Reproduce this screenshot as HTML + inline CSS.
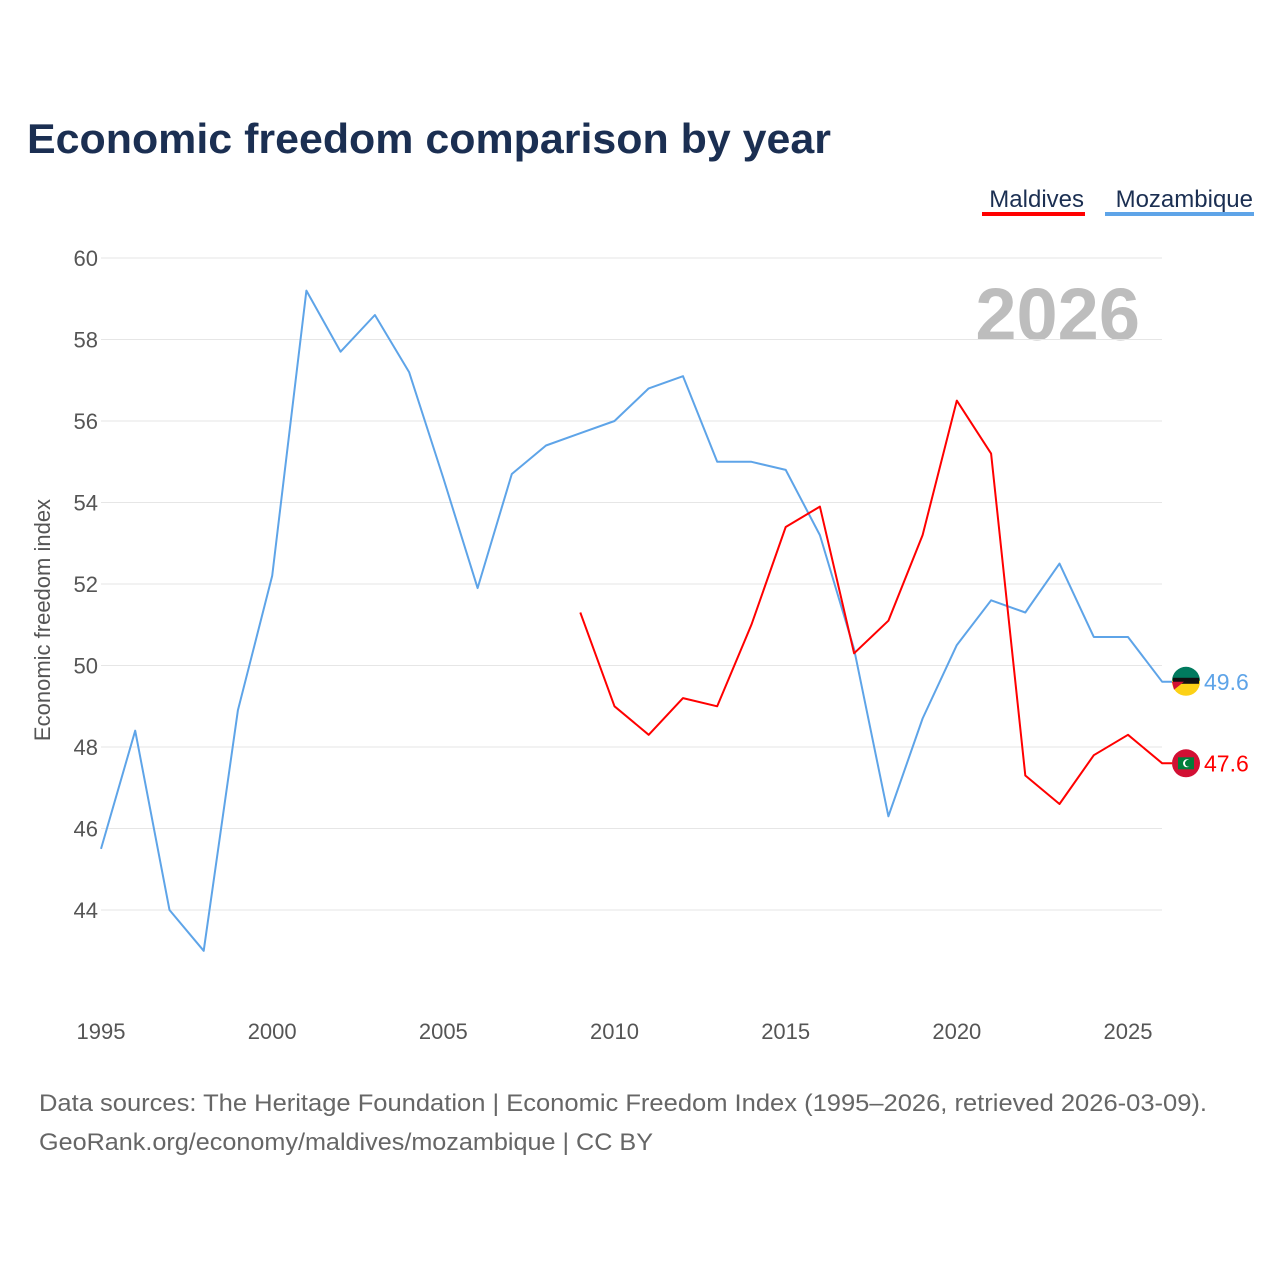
<!DOCTYPE html>
<html><head><meta charset="utf-8"><style>
html,body{margin:0;padding:0;background:#fff;}
body{width:1280px;height:1280px;overflow:hidden;font-family:"Liberation Sans",sans-serif;}
</style></head><body>
<svg id="chart" width="1280" height="1280" xmlns="http://www.w3.org/2000/svg" font-family="Liberation Sans, sans-serif">
<text x="27" y="153" font-size="42" font-weight="bold" fill="#1b2f52" textLength="804" lengthAdjust="spacingAndGlyphs">Economic freedom comparison by year</text>
<g>
<text x="1084" y="207" font-size="24" fill="#1b2f52" text-anchor="end">Maldives</text>
<rect x="982" y="212" width="103" height="4" fill="#ff0000"/>
<text x="1253" y="207" font-size="24" fill="#1b2f52" text-anchor="end">Mozambique</text>
<rect x="1105" y="212" width="149" height="4" fill="#5ea4e8"/>
</g>
<text x="1140" y="340" font-size="74" font-weight="bold" fill="#bdbdbd" text-anchor="end">2026</text>
<text transform="translate(50,620) rotate(-90)" font-size="22" fill="#555" text-anchor="middle">Economic freedom index</text>
<g id="grid"></g><g id="yticks"></g><g id="xticks"></g><g id="lines"></g><g id="ends"></g>
<text x="39" y="1111" font-size="24" fill="#666" textLength="1168" lengthAdjust="spacingAndGlyphs">Data sources: The Heritage Foundation | Economic Freedom Index (1995–2026, retrieved 2026-03-09).</text>
<text x="39" y="1150" font-size="24" fill="#666" textLength="614" lengthAdjust="spacingAndGlyphs">GeoRank.org/economy/maldives/mozambique | CC BY</text>
</svg>
<script>
const years=[1995,1996,1997,1998,1999,2000,2001,2002,2003,2004,2005,2006,2007,2008,2009,2010,2011,2012,2013,2014,2015,2016,2017,2018,2019,2020,2021,2022,2023,2024,2025,2026];
const mozambique=[45.5,48.4,44.0,43.0,48.9,52.2,59.2,57.7,58.6,57.2,54.6,51.9,54.7,55.4,55.7,56.0,56.8,57.1,55.0,55.0,54.8,53.2,50.4,46.3,48.7,50.5,51.6,51.3,52.5,50.7,50.7,49.6];
const maldives=[null,null,null,null,null,null,null,null,null,null,null,null,null,null,51.3,49.0,48.3,49.2,49.0,51.0,53.4,53.9,50.3,51.1,53.2,56.5,55.2,47.3,46.6,47.8,48.3,47.6];
const yTicks=[44,46,48,50,52,54,56,58,60];
const xTicks=[1995,2000,2005,2010,2015,2020,2025];
const NS="http://www.w3.org/2000/svg";
const x=v=>101+(v-1995)*(1027/30);
const y=v=>258+(60-v)*(652/16);
function mk(t,a,p){const e=document.createElementNS(NS,t);for(const k in a)e.setAttribute(k,a[k]);document.getElementById(p).appendChild(e);return e;}
yTicks.forEach(t=>{
 const g=mk('line',{x1:101,x2:1162,y1:y(t),y2:y(t),stroke:'#e6e6e6','stroke-width':1},'grid');
 
 
 const l=mk('text',{x:98,y:y(t)+8,'font-size':22,fill:'#555','text-anchor':'end'},'yticks');
 l.textContent=t;
 
 
});
xTicks.forEach(t=>{
 const l=mk('text',{x:x(t),y:1039,'font-size':22,fill:'#555','text-anchor':'middle'},'xticks');
 l.textContent=t;
 
 
});
function path(vals,color,name,moz){
 let d='';vals.forEach((v,i)=>{if(v==null)return;d+=(d?'L':'M')+x(years[i]).toFixed(1)+','+y(v).toFixed(1);});
 const last=vals[vals.length-1],cx=1186,cy=y(last);
 d+='L'+(cx-14)+','+cy.toFixed(1);
 const p=mk('path',{d:d,fill:'none',stroke:color,'stroke-width':2,'stroke-linejoin':'round'},'lines');
 
 
 const c=mk('circle',{cx:cx,cy:cy,r:14,fill:moz?'#fcd116':'#d21034'},'ends');
 
 
 if(moz){
  mk('path',{d:`M${cx-14},${cy-1}A14,14 0 0 1 ${cx+14},${cy-1}Z`,fill:'#007a5e'},'ends');
  mk('rect',{x:cx-13,y:cy-4,width:26,height:6,fill:'#111'},'ends');
  mk('path',{d:`M${cx-14},${cy}L${cx-2},${cy}L${cx-12},${cy+8}Z`,fill:'#d21034'},'ends');
 } else {
  mk('rect',{x:cx-8,y:cy-6,width:16,height:12,fill:'#007e3a'},'ends');
  mk('circle',{cx:cx+1,cy:cy,r:4,fill:'#fff'},'ends');
  mk('circle',{cx:cx+2.5,cy:cy,r:3.5,fill:'#007e3a'},'ends');
 }
 const lb=mk('text',{x:1204,y:cy+8,'font-size':23,fill:color},'ends');
 lb.textContent=last.toFixed(1);
 
 
}
path(mozambique,'#5ea4e8','mozambique-line',true);
path(maldives,'#ff0000','maldives-line',false);
</script>
</body></html>
